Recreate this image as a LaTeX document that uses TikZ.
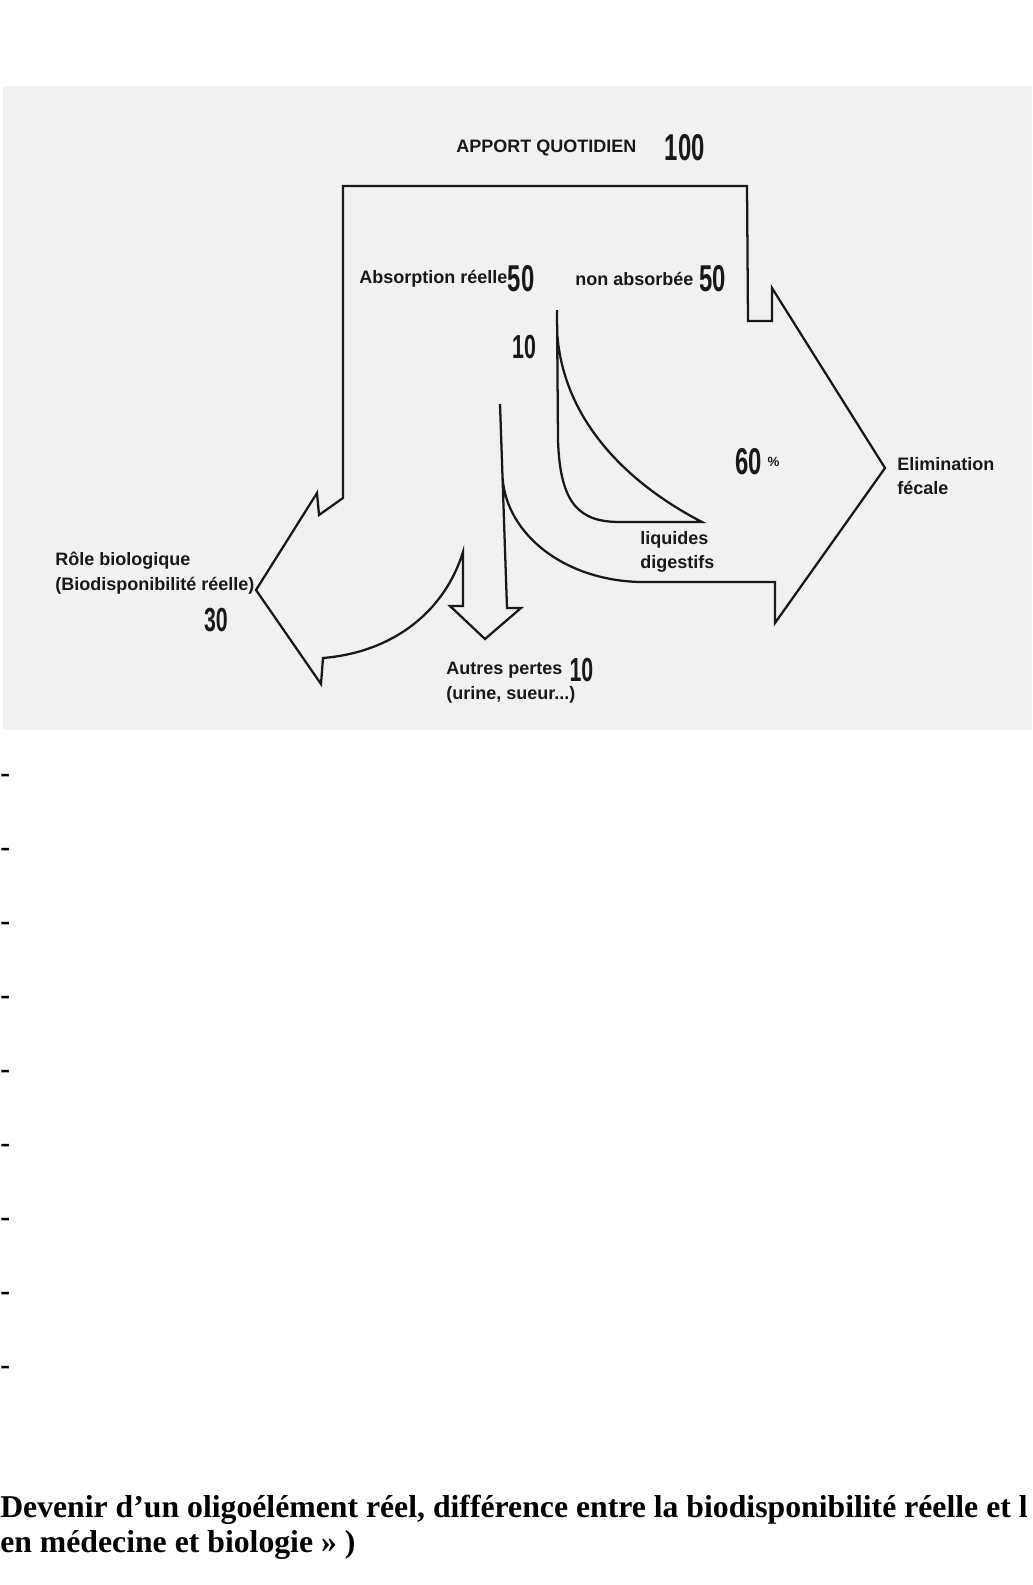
\documentclass[tikz,border=0pt]{standalone}
\usepackage{fontspec}
\setmainfont{Liberation Serif}
\newfontfamily\diagfont{Liberation Sans}
\usetikzlibrary{positioning}
\definecolor{panelgray}{RGB}{241,241,241}
\definecolor{inkgray}{RGB}{25,25,25}
\newcommand{\tallnum}[1]{\scalebox{0.64}[1]{#1}}
\tikzset{
  lbl/.style={font=\diagfont\bfseries\fontsize{13.5pt}{18.5pt}\selectfont, inner sep=0pt, text=inkgray, align=left},
  num/.style={font=\diagfont\bfseries\fontsize{28pt}{28pt}\selectfont, inner sep=0pt, text=inkgray},
  smallnum/.style={num, font=\diagfont\bfseries\fontsize{25pt}{25pt}\selectfont},
  outline/.style={draw=inkgray, line width=1.7pt, line join=miter},
  capline/.style={font=\bfseries\fontsize{23.8pt}{26pt}\selectfont, inner sep=0pt, anchor=base west},
  dashmark/.style={font=\bfseries\fontsize{22pt}{22pt}\selectfont, inner sep=0pt, anchor=base west}
}
\begin{document}
\begin{tikzpicture}[x=0.75pt, y=-0.75pt]
    \useasboundingbox (0,0) rectangle (1032,1585);
    \clip (0,0) rectangle (1032,1585);
    \fill[white] (0,0) rectangle (1032,1585);
    \fill[panelgray] (3,86) rectangle (1032,730);

    % labels
    \node[lbl, anchor=west] (apport) at (456,148) {APPORT QUOTIDIEN};
    \node[num, right=21pt of apport] (apportval) {\tallnum{100}};
    \node[lbl, anchor=west] (absorb) at (359,279) {Absorption réelle};
    \node[num, right=0pt of absorb] (absorbval) {\tallnum{50}};
    \node[lbl, anchor=west] (nonabs) at (575,279) {non absorbée};
    \node[num, right=4pt of nonabs] (nonabsval) {\tallnum{50}};
    \node[smallnum] (retour) at (524,347) {\tallnum{10}};
    \node[num, anchor=west] (fecalval) at (735,462) {\tallnum{60}};
    \node[lbl, font=\diagfont\bfseries\fontsize{10pt}{10pt}\selectfont, right=4pt of fecalval] (pct) {\%};
    \node[lbl, anchor=west] (elim) at (897,476) {Elimination\\fécale};
    \node[lbl, anchor=west] (liquides) at (640,552) {liquides\\digestifs};
    \node[lbl, anchor=west] (role) at (55,573) {Rôle biologique\\(Biodisponibilité réelle)};
    \node[smallnum] (roleval) at (216,620) {\tallnum{30}};
    \node[lbl, anchor=west] (autres) at (446,670) {Autres pertes};
    \node[smallnum, right=5pt of autres] (autresval) {\tallnum{10}};
    \node[lbl, anchor=west] (urine) at (446,695) {(urine, sueur...)};

    % flux
    \coordinate (branch) at (502.4,473);
    \draw[outline] (500,404) -- (507,608) -- (521,608) -- (485,639) -- (450,606) -- (463,606) -- (463,552)
        .. controls (445,610) and (395,652) .. (323,658) -- (321,684) -- (256,590) -- (317,493)
        -- (319,515) -- (343,498) -- (343,186) -- (747,186) -- (748,321) -- (772,321) -- (772,288)
        -- (885,468) -- (775,623) -- (775,582) -- (640,582) .. controls (560,580) and (503,530) .. (branch);
    \draw[outline] (557,310) -- (558,440) .. controls (560,505) and (580,522) .. (620,522) -- (702,522)
        .. controls (640,490) and (565,430) .. (557.3,335);

    % texte
    \foreach \k in {0,...,8}
        \node[dashmark] (dash\k) at (0,{782+74.1*\k}) {-};
    \node[capline] (capone) at (0,1517) {Devenir d’un oligoélément réel, différence entre la biodisponibilité réelle et l};
    \node[capline] (captwo) at (0,1552) {en médecine et biologie » )};
\end{tikzpicture}
\end{document}
